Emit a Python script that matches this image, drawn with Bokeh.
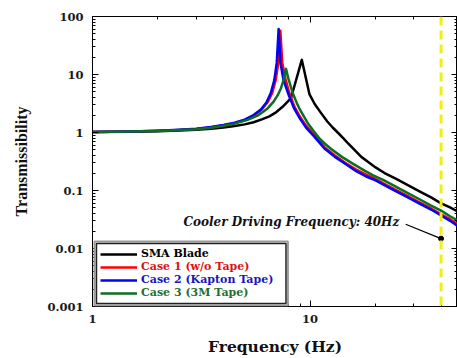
from bokeh.plotting import figure
from bokeh.models import (LogAxis, FixedTicker, CustomJSTickFormatter, Legend,
                          LegendItem, Span, Label, Range1d, BoxAnnotation)
from bokeh.embed import file_html
from bokeh.resources import INLINE

# ---------------- data ----------------
freq_sma = [1, 1.5, 2, 2.5, 3, 3.5, 4, 4.5, 5, 5.5, 6, 6.5, 7, 7.5, 8.17, 9.16,
            9.93, 10.5, 11.2, 12, 12.7, 13.4, 14.2, 15, 16, 17.2, 18.5, 20, 22,
            25, 28, 32, 36, 40, 44, 48]
t_sma = [1.02, 1.03, 1.05, 1.08, 1.11, 1.16, 1.22, 1.30, 1.38, 1.50, 1.68, 1.90,
         2.25, 2.8, 3.9, 17.9, 4.6, 3.1, 2.2, 1.55, 1.22, 1.0, 0.80, 0.64, 0.50,
         0.38, 0.31, 0.25, 0.20, 0.157, 0.125, 0.096, 0.076, 0.060, 0.051, 0.043]

freq_case1 = [1, 1.5, 2, 2.5, 3, 3.5, 4, 4.5, 5, 5.5, 6, 6.4, 6.7, 6.95, 7.15,
              7.30, 7.45, 7.7, 8.0, 8.47, 9, 9.6, 10.46, 11.64, 13, 14.5, 16.3,
              18, 20, 22.5, 25, 28, 32, 36, 40, 44, 48]
t_case1 = [1.02, 1.04, 1.07, 1.10, 1.15, 1.22, 1.33, 1.45, 1.62, 1.95, 2.5, 3.4,
           4.8, 8.0, 16, 57, 16, 8.5, 5.0, 2.8, 1.85, 1.3, 0.9, 0.56, 0.40, 0.30,
           0.23, 0.19, 0.158, 0.124, 0.101, 0.081, 0.062, 0.049, 0.039, 0.032, 0.026]

freq_case2 = [1, 1.5, 2, 2.5, 3, 3.5, 4, 4.5, 5, 5.5, 5.94, 6.3, 6.6, 6.85, 7.03,
              7.17, 7.31, 7.55, 8.0, 8.47, 9, 9.6, 10.46, 11.64, 13, 14.5, 16.3,
              18, 20, 22.5, 25, 28, 32, 36, 40, 44, 48]
t_case2 = [1.02, 1.04, 1.07, 1.11, 1.16, 1.24, 1.35, 1.48, 1.67, 2.0, 2.5, 3.3,
           4.8, 8.0, 16, 61, 16, 8.0, 4.3, 2.55, 1.72, 1.2, 0.85, 0.53, 0.38, 0.29,
           0.215, 0.176, 0.150, 0.118, 0.096, 0.077, 0.059, 0.047, 0.037, 0.030, 0.024]

freq_case3 = [1, 1.5, 2, 2.5, 3, 3.5, 3.9, 4.5, 5.16, 5.8, 6.38, 6.8, 7.1, 7.35,
              7.55, 7.75, 7.95, 8.32, 8.7, 9.0, 9.76, 10.4, 11, 11.7, 12.5, 14,
              15.5, 17.8, 19.5, 21.9, 25, 28, 32, 36, 40, 44, 48]
t_case3 = [1.02, 1.04, 1.06, 1.10, 1.14, 1.21, 1.28, 1.42, 1.65, 2.0, 2.6, 3.4,
           4.4, 5.8, 8.0, 12.5, 8.5, 4.8, 3.2, 2.45, 1.45, 1.05, 0.80, 0.64, 0.52,
           0.38, 0.30, 0.22, 0.183, 0.149, 0.114, 0.091, 0.070, 0.055, 0.045,
           0.036, 0.030]

series_labels = ["SMA Blade", "Case 1 (w/o Tape)", "Case 2 (Kapton Tape)", "Case 3 (3M Tape)"]
series_colors = ["#000000", "#ff0000", "#0000ff", "#0b6e22"]
label_colors = ["#000000", "#e01010", "#1515c0", "#1f6e30"]

x_major_ticks = [1, 10]
x_minor_ticks = [2, 3, 4, 5, 6, 7, 8, 9, 20, 30, 40]
y_major_ticks = [0.001, 0.01, 0.1, 1, 10, 100]
y_minor_ticks = [m * d for d in [0.001, 0.01, 0.1, 1, 10] for m in range(2, 10)]

driving_freq = 40
driving_point_t = 0.0148
annot_text = "Cooler Driving Frequency: 40Hz"
annot_x, annot_y = 25.7, 0.029
leader_start = (27.5, 0.0262)
legend_shadow = dict(left=1.0215, right=7.91, bottom=0.00104, top=0.0132)
legend_box = dict(left=1.043, right=7.75, bottom=0.00113, top=0.0122)

# ---------------- figure ----------------
p = figure(width=457, height=358, x_axis_type="log", y_axis_type="log",
           x_range=Range1d(1, 47.6), y_range=Range1d(0.001, 100),
           output_backend="svg", toolbar_location=None,
           min_border_left=92, min_border_top=16, min_border_bottom=52,
           min_border_right=0)
p.background_fill_color = "white"
p.border_fill_color = "white"
p.outline_line_color = "black"
p.outline_line_width = 1
p.xgrid.visible = False
p.ygrid.visible = False

fmt = CustomJSTickFormatter(code="return String(Number(tick.toPrecision(3)));")
empty_fmt = CustomJSTickFormatter(code="return '';")


def style_axis(ax, ticks, minor, show_labels=True):
    ax.ticker = FixedTicker(ticks=ticks, minor_ticks=minor)
    ax.axis_line_color = "black"
    ax.axis_line_width = 1
    ax.major_tick_in = 6
    ax.major_tick_out = 0
    ax.minor_tick_in = 3
    ax.minor_tick_out = 0
    ax.major_tick_line_color = "black"
    ax.minor_tick_line_color = "black"
    if show_labels:
        ax.formatter = fmt
        ax.major_label_text_font = "DejaVu Serif"
        ax.major_label_text_font_style = "bold"
        ax.major_label_text_font_size = "11.5px"
        ax.major_label_text_color = "#1a1a1a"
    else:
        ax.formatter = empty_fmt
        ax.major_label_standoff = 0


style_axis(p.xaxis[0], x_major_ticks, x_minor_ticks)
style_axis(p.yaxis[0], y_major_ticks, y_minor_ticks)
p.xaxis[0].major_label_standoff = 8
p.yaxis[0].major_label_standoff = 9

p.xaxis[0].axis_label = "Frequency (Hz)"
p.xaxis[0].axis_label_text_font = "DejaVu Serif"
p.xaxis[0].axis_label_text_font_style = "bold"
p.xaxis[0].axis_label_text_font_size = "15.5px"
p.xaxis[0].axis_label_text_color = "#111111"
p.xaxis[0].axis_label_standoff = 11

p.yaxis[0].axis_label = "Transmissibility"
p.yaxis[0].axis_label_text_font = "Liberation Serif"
p.yaxis[0].axis_label_text_font_style = "bold"
p.yaxis[0].axis_label_text_font_size = "16px"
p.yaxis[0].axis_label_text_color = "#111111"
p.yaxis[0].axis_label_standoff = 14

top_ax = LogAxis()
style_axis(top_ax, x_major_ticks, x_minor_ticks, show_labels=False)
p.add_layout(top_ax, "above")
right_ax = LogAxis()
style_axis(right_ax, y_major_ticks, y_minor_ticks, show_labels=False)
p.add_layout(right_ax, "right")

# ---------------- curves ----------------
all_x = [freq_sma, freq_case1, freq_case2, freq_case3]
all_y = [t_sma, t_case1, t_case2, t_case3]
renderers = []
for xs, ys, col in zip(all_x, all_y, series_colors):
    r = p.line(xs, ys, line_color=col, line_width=2.5, line_join="round")
    renderers.append(r)

# driving frequency marker
p.add_layout(Span(location=driving_freq, dimension="height", line_color="#f5ee10",
                  line_width=3, line_dash="9 5"))
p.segment(x0=[leader_start[0]], y0=[leader_start[1]], x1=[driving_freq],
          y1=[driving_point_t], line_color="black", line_width=1.2)
p.scatter([driving_freq], [driving_point_t], size=5, color="black")
p.add_layout(Label(x=annot_x, y=annot_y, text=annot_text, text_align="right",
                   text_baseline="middle", text_font="DejaVu Serif",
                   text_font_style="bold italic", text_font_size="12px",
                   text_color="#111111"))

# ---------------- legend ----------------
p.add_layout(BoxAnnotation(fill_color="white", fill_alpha=1,
                           line_color="#9a9a9a", line_width=2, line_alpha=1,
                           **legend_shadow))
p.add_layout(BoxAnnotation(fill_color="white", fill_alpha=1,
                           line_color="#222222", line_width=1.5, line_alpha=1,
                           **legend_box))
common = dict(padding=4, spacing=1, glyph_height=12, label_height=12,
              glyph_width=37, label_standoff=4, margin=0,
              label_text_font="DejaVu Serif", label_text_font_style="bold",
              label_text_font_size="11px", border_line_alpha=0,
              background_fill_alpha=0)
for k, (l, r, c) in enumerate(zip(series_labels, renderers, label_colors)):
    lg = Legend(items=[LegendItem(label=l, renderers=[r])],
                location=(4, 42 - 13 * k), label_text_color=c, **common)
    p.add_layout(lg)

open("out.html", "w").write(file_html(p, INLINE))
